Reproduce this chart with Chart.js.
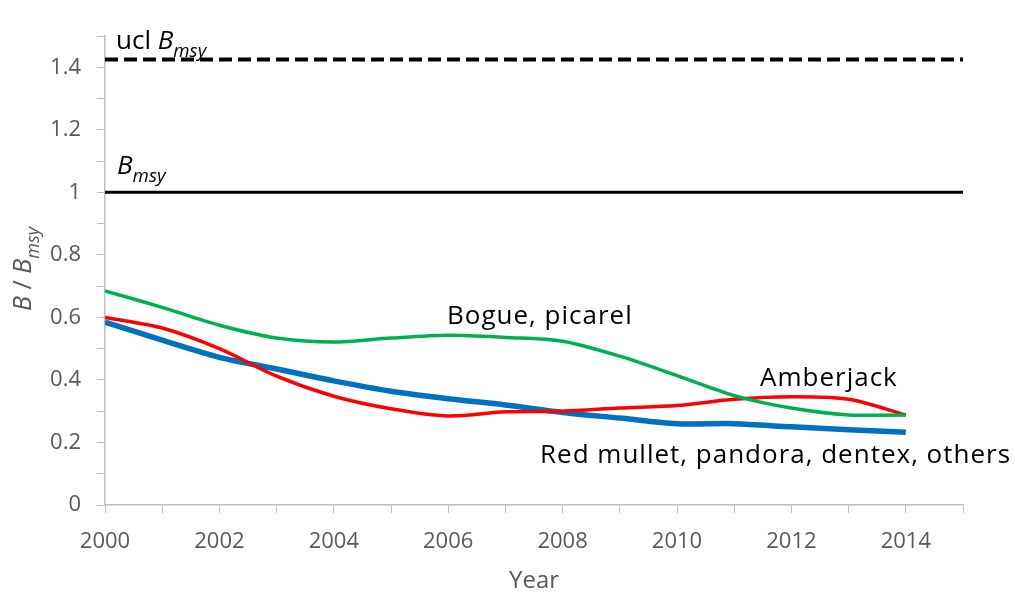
<!DOCTYPE html>
<html>
<head>
<meta charset="utf-8">
<script src="https://cdn.jsdelivr.net/npm/chart.js@4"></script>
<style>
  html, body { margin: 0; background: #fff; }
  #wrap { width: 1015px; height: 597px; }
</style>
</head>
<body>
<div id="wrap"><canvas id="chart"></canvas></div>
<script>
// Данные
const years = [2000, 2001, 2002, 2003, 2004, 2005, 2006, 2007, 2008, 2009, 2010, 2011, 2012, 2013, 2014];
const bogue = [0.685, 0.632, 0.575, 0.534, 0.521, 0.534, 0.543, 0.536, 0.524, 0.476, 0.414, 0.350, 0.310, 0.288, 0.288];
const amberjack = [0.600, 0.566, 0.500, 0.412, 0.348, 0.308, 0.285, 0.298, 0.300, 0.310, 0.318, 0.338, 0.346, 0.338, 0.288];
const redMullet = [0.585, 0.527, 0.472, 0.435, 0.397, 0.364, 0.340, 0.320, 0.296, 0.278, 0.260, 0.260, 0.250, 0.241, 0.233];
const refYears = [2000, 2015];
const bmsy = 1;
const uclBmsy = 1.425;

const GREY = "#595959";
const FONT = "'Open Sans', 'Liberation Sans', sans-serif";

const pts = (xs, ys) => xs.map((x, i) => ({ x, y: ys[i] }));
const flat = (v) => refYears.map((x) => ({ x, y: v }));

// Текст с курсивом и индексами
function richText(ctx, parts, x, y, size, color) {
  let cx = x;
  parts.forEach((p) => {
    const s = p.sub ? size * 0.72 : size;
    ctx.font = `${p.italic ? "italic " : ""}${s}px ${FONT}`;
    ctx.fillStyle = color;
    ctx.textBaseline = "alphabetic";
    ctx.textAlign = "left";
    ctx.fillText(p.t, cx, y + (p.sub ? size * 0.3 : 0));
    cx += ctx.measureText(p.t).width;
  });
  return cx - x;
}
function richWidth(ctx, parts, size) {
  let w = 0;
  parts.forEach((p) => {
    const s = p.sub ? size * 0.72 : size;
    ctx.font = `${p.italic ? "italic " : ""}${s}px ${FONT}`;
    w += ctx.measureText(p.t).width;
  });
  return w;
}

const labelsPlugin = {
  id: "labels",
  afterDraw(chart) {
    const { ctx, scales } = chart;
    const X = scales.x, Y = scales.y;
    ctx.save();

    // Подпись оси Y
    const title = [{ t: "B", italic: true }, { t: " / " }, { t: "B", italic: true }, { t: "msy", italic: true, sub: true }];
    ctx.translate(31, 269);
    ctx.rotate(-Math.PI / 2);
    const tw = richWidth(ctx, title, 25);
    richText(ctx, title, -tw / 2, 0, 25, GREY);
    ctx.setTransform(1, 0, 0, 1, 0, 0);

    // Подписи линий
    richText(ctx, [{ t: "ucl " }, { t: "B", italic: true }, { t: "msy", italic: true, sub: true }],
      X.getPixelForValue(2000) + 11, Y.getPixelForValue(uclBmsy) - 10, 26, "#000");
    richText(ctx, [{ t: "B", italic: true }, { t: "msy", italic: true, sub: true }],
      X.getPixelForValue(2000) + 12, Y.getPixelForValue(bmsy) - 18, 26, "#000");

    ctx.font = `26px ${FONT}`;
    ctx.letterSpacing = "1px";
    ctx.fillStyle = "#000";
    ctx.textAlign = "left";
    ctx.textBaseline = "alphabetic";
    ctx.fillText("Bogue, picarel", 447, 324);
    ctx.fillText("Amberjack", 760, 386);
    ctx.fillText("Red mullet, pandora, dentex, others", 540, 463);
    ctx.restore();
  }
};

const ctx = document.getElementById("chart").getContext("2d");
new Chart(ctx, {
  type: "line",
  data: {
    datasets: [
      { data: pts(years, bogue), borderColor: "#00b050", borderWidth: 3.5, tension: 0.3, order: 1 },
      { data: pts(years, amberjack), borderColor: "#ff0000", borderWidth: 3.5, tension: 0.3, order: 2 },
      { data: pts(years, redMullet), borderColor: "#0070c0", borderWidth: 5.5, tension: 0.3, order: 3 },
      { data: flat(bmsy), borderColor: "#000", borderWidth: 3, order: 4 },
      { data: flat(uclBmsy), borderColor: "#000", borderWidth: 4, borderDash: [13, 6], order: 5 }
    ]
  },
  options: {
    responsive: true,
    maintainAspectRatio: false,
    animation: false,
    layout: { padding: { top: 36, right: 52, left: 0, bottom: 0 } },
    elements: { point: { radius: 0 }, line: { fill: false, borderCapStyle: "butt" } },
    plugins: { legend: { display: false }, tooltip: { enabled: false } },
    scales: {
      x: {
        type: "linear",
        min: 2000,
        max: 2015,
        afterFit: (s) => { s.height = 92; },
        border: { color: "#bfbfbf", width: 1.5 },
        grid: { drawOnChartArea: false, drawTicks: true, tickLength: 8, color: "#bfbfbf" },
        ticks: {
          stepSize: 1,
          autoSkip: false,
          maxRotation: 0,
          color: GREY,
          font: { family: FONT, size: 22 },
          padding: 16,
          callback: (v) => (v % 2 === 0 && v < 2015 ? String(v) : "")
        },
        title: { display: true, text: "Year", color: GREY, font: { family: FONT, size: 24 }, padding: { top: 0, bottom: 1 } }
      },
      y: {
        min: 0,
        max: 1.5,
        afterFit: (s) => { s.width = 105; },
        border: { color: "#bfbfbf", width: 1.5 },
        grid: { drawOnChartArea: false, drawTicks: true, tickLength: 8, color: "#bfbfbf" },
        ticks: {
          stepSize: 0.1,
          autoSkip: false,
          color: GREY,
          font: { family: FONT, size: 22 },
          padding: 16,
          callback: (v) => {
            const k = Math.round(v * 10);
            return k % 2 === 0 ? String(k / 10) : "";
          }
        }
      }
    }
  },
  plugins: [labelsPlugin]
});
</script>
</body>
</html>
